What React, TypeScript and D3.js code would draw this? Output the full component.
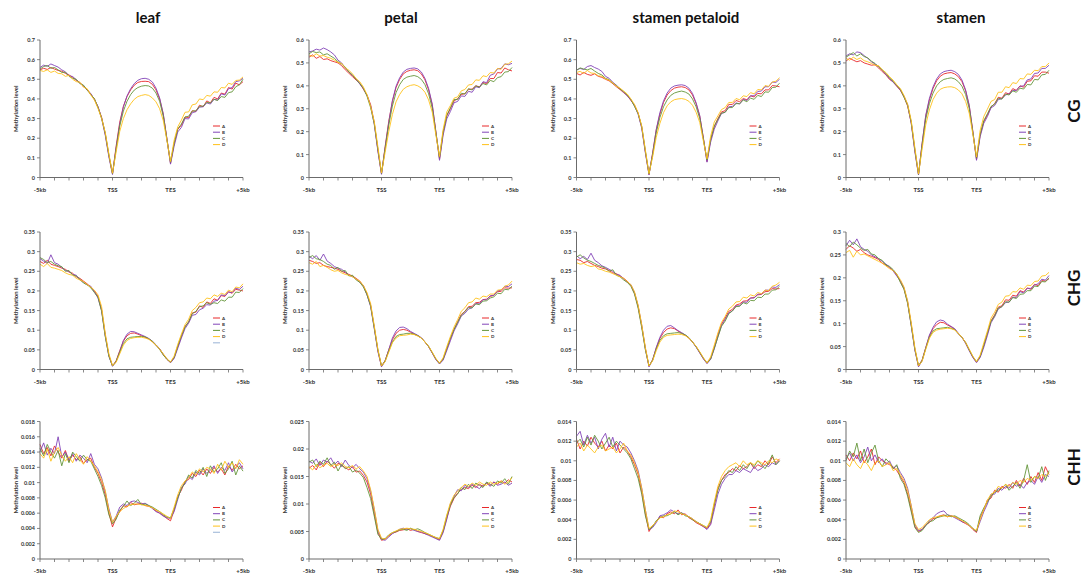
import React from "react";
import * as d3 from "d3";

// bins across -5kb..TSS..TES..+5kb (TSS at 50, TES at 90)
const bins = d3.range(0, 141, 2.5);
const xTickBins = d3.range(0, 141, 10);
const xLabels = [
  { bin: 0, text: "-5kb" },
  { bin: 50, text: "TSS" },
  { bin: 90, text: "TES" },
  { bin: 140, text: "+5kb" },
];

const tissues = ["leaf", "petal", "stamen petaloid", "stamen"];
const contexts = ["CG", "CHG", "CHH"];
const seriesNames = ["A", "B", "C", "D"];
const seriesColors = ["#e8282b", "#8244b8", "#64953a", "#ffc21a"];

// values per context: CG/CHG in 1e-3, CHH in 1e-4
const rowUnit = [1e-3, 1e-3, 1e-4];
const yMax = [
  [0.7, 0.6, 0.7, 0.6],
  [0.35, 0.35, 0.35, 0.3],
  [0.018, 0.025, 0.014, 0.014],
];
const yStep = [
  [0.1, 0.1, 0.1, 0.1],
  [0.05, 0.05, 0.05, 0.05],
  [0.002, 0.005, 0.002, 0.002],
];

// ---- CG ----
const cgLeafA = [548,556,550,560,552,545,541,530,522,510,494,484,462,450,424,400,358,306,222,112,18, 160,282,362,412,446,470,484,489,490,488,474,446,400,322,200,72, 172,245,266,308,305,340,336,368,360,390,380,408,400,430,424,458,450,480,472,488];
const cgLeafB = [560,572,566,578,570,562,548,538,518,514,498,480,468,444,428,396,362,300,215,105,15, 150,272,360,415,452,478,495,503,505,500,486,455,405,325,195,68, 160,232,255,300,298,330,335,358,360,380,374,398,394,426,420,452,458,488,492,505];
const cgLeafC = [552,565,570,556,560,548,535,536,515,505,500,478,470,446,422,402,356,302,225,115,20, 145,262,338,388,422,445,458,465,468,466,455,430,388,312,195,78, 175,248,272,308,312,338,340,362,364,382,380,398,392,412,408,432,436,462,472,500];
const cgLeafD = [545,540,548,535,542,530,528,515,520,500,488,485,460,452,420,395,352,300,230,120,22, 130,235,300,345,375,398,412,418,422,418,405,385,350,290,190,82, 190,258,292,332,334,370,374,400,396,418,414,436,434,458,456,480,474,494,496,512];

const cgPetalA = [525,535,520,528,515,518,510,505,500,488,470,455,440,425,412,385,360,318,240,120,15, 135,245,332,392,428,452,463,468,470,466,452,426,382,316,200,80, 195,268,300,334,344,362,366,384,386,400,396,414,410,432,432,458,456,478,470,465];
const cgPetalB = [548,552,560,556,565,558,548,535,512,500,478,462,445,430,408,388,358,312,232,115,14, 130,240,335,398,435,460,472,476,478,474,460,432,388,320,198,75, 185,256,288,326,332,356,354,376,372,396,392,418,414,446,452,474,476,496,492,498];
const cgPetalC = [540,550,545,548,535,540,530,520,505,495,482,460,448,428,410,390,355,305,235,125,18, 125,228,312,370,405,428,438,442,445,440,428,405,365,302,195,88, 200,272,304,340,340,368,364,388,382,400,394,410,404,424,418,436,440,460,462,480];
const cgPetalD = [535,528,540,530,532,525,520,512,502,498,478,468,452,432,418,395,362,310,245,135,20, 110,200,275,330,362,385,396,402,405,400,390,372,338,285,185,92, 210,286,314,346,352,378,384,404,406,426,424,444,440,458,456,476,472,494,496,508];

const cgPetaloidA = [530,522,535,525,520,528,515,510,500,492,478,462,448,432,418,392,368,328,255,130,15, 125,242,322,382,420,442,455,460,462,458,446,420,376,312,202,82, 192,258,300,334,340,372,372,392,386,402,396,416,410,428,426,446,446,468,466,462];
const cgPetaloidB = [548,555,550,565,570,560,552,540,515,505,485,470,452,435,415,395,365,322,250,125,14, 122,245,330,390,430,455,466,470,472,468,455,428,380,315,198,78, 180,246,288,326,332,360,362,380,374,398,392,416,416,438,440,462,462,486,484,500];
const cgPetaloidC = [545,558,552,548,555,542,530,522,505,498,480,468,450,438,420,398,362,325,260,135,18, 115,228,305,360,395,418,430,436,440,435,425,400,360,300,195,90, 195,262,296,328,332,356,356,376,376,394,386,404,398,418,412,436,434,458,460,480];
const cgPetaloidD = [535,540,530,545,532,530,518,515,502,495,482,465,455,440,425,400,372,330,262,140,20, 105,205,275,330,365,385,396,400,402,398,388,368,332,280,185,95, 210,282,314,346,356,382,382,402,396,416,412,432,426,448,446,468,464,486,490,508];

const cgStamenA = [508,520,512,505,510,500,495,490,492,478,462,448,428,418,398,380,352,312,238,118,12, 148,268,338,388,422,442,452,456,458,452,440,418,378,312,200,78, 185,244,272,308,322,350,346,370,364,388,380,400,394,420,422,444,442,460,460,455];
const cgStamenB = [530,540,535,548,545,532,520,505,495,485,468,450,432,415,400,382,355,318,235,112,11, 150,272,345,395,430,452,462,466,468,462,450,425,382,315,198,75, 178,236,266,304,314,340,344,360,366,380,380,398,400,426,430,454,456,476,476,490];
const cgStamenC = [525,535,545,530,540,528,522,508,498,482,470,455,435,420,402,385,350,315,242,122,14, 140,255,322,368,400,418,428,432,435,430,418,398,362,300,195,85, 190,248,278,310,320,346,342,364,360,378,372,390,386,406,404,428,426,448,450,468];
const cgStamenD = [520,512,525,515,522,510,505,498,490,488,470,458,440,425,405,388,358,320,248,130,16, 125,230,295,340,368,385,392,395,396,392,382,365,332,280,188,90, 205,266,298,332,340,372,372,396,392,414,410,432,430,452,450,468,466,484,484,500];

// ---- CHG ----
const chgLeafA = [275,270,278,268,265,262,258,255,248,245,236,232,225,218,210,200,186,152,88,36,9, 22,48,72,86,92,93,90,86,82,78,71,62,52,38,26,18, 30,58,84,110,120,144,146,162,158,172,168,180,176,188,186,198,194,204,202,200];
const chgLeafB = [282,276,270,292,272,268,260,252,250,242,240,228,222,215,212,198,182,150,85,34,8, 20,46,74,90,97,96,92,88,84,79,72,63,53,39,27,17, 28,54,80,104,118,138,140,152,156,165,164,174,176,190,188,197,196,207,204,212];
const chgLeafC = [285,280,272,275,268,264,262,250,252,240,238,230,220,216,208,196,184,148,84,34,9, 21,44,66,78,82,83,84,84,83,78,72,62,51,37,26,19, 31,60,86,108,122,142,148,160,162,170,166,170,168,177,174,184,184,197,196,206];
const chgLeafD = [268,262,270,260,258,255,252,246,242,240,232,228,224,216,210,202,190,160,92,40,10, 18,40,62,74,79,81,82,82,80,77,70,62,52,40,28,19, 34,64,90,114,128,150,158,170,172,182,180,190,186,194,191,202,198,210,208,218];

const chgPetalA = [278,275,270,272,265,262,260,258,255,250,246,242,238,232,225,212,192,164,108,48,8, 23,50,76,92,100,102,100,95,90,86,80,70,58,42,26,15, 26,52,78,102,122,140,148,160,161,170,171,178,179,186,189,198,199,208,207,208];
const chgPetalB = [288,282,290,278,294,276,270,262,258,255,248,240,236,230,222,214,190,160,104,46,7, 21,50,80,98,107,108,104,97,92,87,81,70,58,42,25,14, 24,48,73,98,116,136,143,154,157,168,167,178,177,188,189,200,202,212,211,218];
const chgPetalC = [285,290,282,280,275,268,265,255,260,250,252,238,240,228,222,210,190,162,106,50,9, 22,47,70,84,89,90,92,92,90,86,80,70,59,43,27,16, 27,54,80,102,120,138,147,158,157,167,165,174,175,182,185,194,193,204,203,212];
const chgPetalD = [272,268,275,262,265,260,254,250,252,246,242,240,236,230,225,214,196,168,112,52,9, 20,44,68,80,86,87,88,90,89,85,80,70,59,44,28,16, 30,58,84,108,127,148,157,170,172,182,179,187,185,192,192,202,203,212,215,225];

const chgPetaloidA = [280,278,272,275,270,265,262,258,256,252,246,244,238,232,225,214,194,160,110,54,8, 25,55,79,94,103,106,104,98,92,87,80,70,58,43,28,16, 28,56,88,116,131,148,153,164,167,174,175,182,183,190,191,198,199,206,205,206];
const chgPetaloidB = [290,282,288,280,296,278,272,264,260,255,250,242,240,230,222,216,196,162,112,52,7, 24,56,82,100,110,112,106,99,94,88,81,70,57,42,27,15, 26,52,84,112,127,144,149,162,162,172,171,182,182,192,192,202,202,210,209,216];
const chgPetaloidC = [286,292,284,278,275,270,265,262,258,250,254,240,236,228,222,212,192,156,106,50,9, 24,52,74,86,91,92,93,94,92,88,81,70,58,44,29,17, 27,54,82,110,123,142,149,160,161,170,167,176,175,184,183,192,192,202,203,212];
const chgPetaloidD = [272,268,270,265,262,264,256,254,250,248,244,240,236,232,224,216,198,164,114,56,9, 22,48,70,82,87,88,89,90,89,86,80,70,59,45,30,17, 32,62,93,120,135,154,161,172,173,184,182,190,187,196,193,202,201,212,215,222];

const chgStamenA = [262,270,265,258,262,255,250,247,244,240,232,228,222,216,206,192,176,146,98,44,7, 21,48,73,89,98,103,102,97,93,88,78,70,58,42,27,16, 28,52,78,106,119,136,139,152,151,162,160,172,169,178,175,186,183,194,193,198];
const chgStamenB = [270,282,272,285,268,262,258,250,246,242,236,230,224,215,204,194,178,148,95,42,6, 19,47,75,92,104,108,106,99,94,89,79,70,57,41,26,15, 26,48,74,102,115,132,137,146,147,158,157,170,167,177,177,184,187,197,195,205];
const chgStamenC = [275,268,278,272,265,260,262,252,250,242,238,228,225,218,208,190,175,144,96,44,8, 20,46,70,84,89,90,91,92,90,87,78,70,59,43,28,17, 29,53,80,105,117,134,137,148,147,157,155,164,165,172,172,182,181,192,191,200];
const chgStamenD = [255,260,245,258,250,252,248,244,240,236,232,226,220,216,208,196,180,150,102,48,8, 18,44,68,81,86,88,89,90,89,86,79,70,59,44,29,17, 31,58,84,112,125,142,147,160,161,170,169,178,175,184,183,192,193,204,205,212];

// ---- CHH ----
const chhLeafA = [150,138,146,135,148,140,132,142,128,136,130,134,125,130,132,120,112,100,84,60,42, 54,62,70,68,74,71,72,73,70,69,67,63,60,57,53,50, 64,82,90,102,104,112,108,116,110,118,112,120,114,118,110,122,116,124,118,122];
const chhLeafB = [140,152,136,145,138,160,134,140,130,138,128,136,132,126,138,124,118,106,88,66,48, 56,68,72,70,75,76,74,72,73,70,66,62,60,56,54,53, 62,78,94,98,108,104,114,110,118,112,116,122,112,120,116,126,114,120,126,118];
const chhLeafC = [145,135,150,140,132,142,122,138,126,140,134,128,136,130,128,118,108,96,80,58,46, 52,64,69,76,70,73,78,71,72,70,68,65,62,58,55,54, 66,80,92,100,110,106,116,112,120,108,122,114,118,126,112,118,128,110,122,115];
const chhLeafD = [138,132,144,128,140,146,136,128,134,126,138,130,124,134,128,122,114,104,90,64,48, 56,62,66,69,71,72,72,71,70,69,67,64,62,59,56,53, 68,84,96,102,106,114,110,118,114,120,118,112,124,116,128,120,126,118,130,124];

const chhPetalA = [165,170,162,176,168,178,172,165,174,170,166,162,168,158,160,152,140,118,82,48,34, 36,42,47,49,52,53,55,52,54,50,48,46,44,41,38,35, 50,74,96,110,120,126,130,128,134,130,136,132,138,134,140,136,142,138,144,140];
const chhPetalB = [178,174,182,170,180,176,184,172,178,168,180,170,166,172,164,158,146,124,90,52,36, 34,40,46,50,54,56,54,55,52,50,49,46,43,40,37,34, 48,72,100,114,126,124,134,130,136,132,128,134,138,132,140,134,136,140,134,138];
const chhPetalC = [176,180,168,178,172,184,170,176,160,172,164,168,158,162,156,148,130,110,78,45,36, 37,44,48,50,53,54,52,56,53,55,52,48,45,42,39,37, 52,78,98,112,118,130,126,136,128,138,134,130,140,136,132,142,138,146,136,150];
const chhPetalD = [168,162,172,166,170,174,168,172,170,175,168,166,170,164,168,160,150,126,92,54,38, 36,43,48,51,54,55,56,55,54,52,50,48,45,42,39,37, 54,80,102,116,124,130,136,132,138,134,140,136,134,140,136,138,142,136,140,148];

const chhPetaloidA = [122,112,120,115,124,118,114,120,110,116,112,118,108,114,110,104,96,86,68,46,28, 34,38,43,42,46,48,46,50,45,46,42,40,37,35,33,31, 36,54,72,80,86,88,92,90,95,92,94,98,92,96,94,100,96,104,98,102];
const chhPetaloidB = [125,130,116,126,118,124,112,122,128,114,124,110,120,116,114,108,100,90,72,50,30, 32,37,44,45,47,50,48,46,47,45,43,41,38,36,33,30, 35,50,66,76,82,86,86,90,88,92,90,88,94,90,92,96,94,98,96,100];
const chhPetaloidC = [118,122,114,124,116,126,120,112,118,124,114,120,116,112,108,102,92,82,66,44,30, 33,39,42,44,44,46,48,45,47,44,43,40,38,36,34,32, 38,56,70,80,84,90,88,94,90,96,92,98,94,100,96,92,98,106,96,100];
const chhPetaloidD = [114,118,110,116,112,108,114,116,110,112,114,108,112,118,110,106,98,88,72,50,31, 34,38,42,43,45,46,49,48,46,45,43,41,38,36,34,32, 40,58,74,84,90,94,96,98,94,100,96,98,96,100,98,96,100,98,102,100];

const chhStamenA = [106,100,108,102,110,98,104,112,96,104,100,98,96,94,90,84,78,66,50,33,28, 30,35,37,41,42,44,45,43,44,43,41,38,36,34,30,27, 42,50,60,62,70,68,74,72,76,72,80,74,82,76,84,78,88,80,94,86];
const chhStamenB = [102,108,100,106,98,104,114,100,106,98,102,96,100,92,95,88,82,72,54,35,29, 30,34,39,42,46,48,49,45,44,42,40,38,37,34,31,28, 38,48,56,66,66,72,70,74,72,78,74,76,72,78,80,76,84,78,86,84];
const chhStamenC = [100,110,104,118,100,112,98,108,116,100,94,102,98,92,96,82,76,64,48,32,27, 29,34,38,39,42,43,44,45,43,44,42,40,38,35,31,28, 44,52,58,64,68,70,72,76,70,74,78,72,80,96,78,84,82,94,80,90];
const chhStamenD = [98,94,102,96,92,100,96,90,98,100,94,96,98,90,92,86,80,70,54,36,30, 32,36,40,42,43,44,44,43,44,43,41,39,37,34,31,29, 40,50,60,66,68,74,72,76,74,78,76,80,78,82,80,84,82,86,84,88];

const panelData = [
  [
    [cgLeafA, cgLeafB, cgLeafC, cgLeafD],
    [cgPetalA, cgPetalB, cgPetalC, cgPetalD],
    [cgPetaloidA, cgPetaloidB, cgPetaloidC, cgPetaloidD],
    [cgStamenA, cgStamenB, cgStamenC, cgStamenD],
  ],
  [
    [chgLeafA, chgLeafB, chgLeafC, chgLeafD],
    [chgPetalA, chgPetalB, chgPetalC, chgPetalD],
    [chgPetaloidA, chgPetaloidB, chgPetaloidC, chgPetaloidD],
    [chgStamenA, chgStamenB, chgStamenC, chgStamenD],
  ],
  [
    [chhLeafA, chhLeafB, chhLeafC, chhLeafD],
    [chhPetalA, chhPetalB, chhPetalC, chhPetalD],
    [chhPetaloidA, chhPetaloidB, chhPetaloidC, chhPetaloidD],
    [chhStamenA, chhStamenB, chhStamenC, chhStamenD],
  ],
];

// layout
const colX = [40, 309, 576.5, 846];
const plotW = 203;
const rowTop = [40, 232, 421.5];
const plotH = 137.5;
const titleX = [148, 401, 686, 961];
const rowLabelY = [111, 288, 467];

const font = "Lato, 'Open Sans', sans-serif";
const axisColor = "#6b6b6b";

function Panel({ row, col }: { row: number; col: number }) {
  const x0 = colX[col];
  const top = rowTop[row];
  const x = d3.scaleLinear().domain([0, 140]).range([x0, x0 + plotW]);
  const y = d3.scaleLinear().domain([0, yMax[row][col]]).range([top + plotH, top]);
  const unit = rowUnit[row];
  const yTicks = d3.range(0, yMax[row][col] + yStep[row][col] / 2, yStep[row][col]);
  const line = d3
    .line<number>()
    .x((_, i) => x(bins[i]))
    .y((d) => y(d * unit));
  const bottom = top + plotH;
  const showBlank = col === 0 && row > 0;

  return (
    <g>
      {panelData[row][col].map((s, k) => (
        <path key={k} d={line(s) || ""} fill="none" stroke={seriesColors[k]} strokeWidth={0.9} strokeLinejoin="round" />
      ))}
      <line x1={x0} x2={x0} y1={top} y2={bottom} stroke={axisColor} strokeWidth={1} />
      <line x1={x0} x2={x0 + plotW} y1={bottom} y2={bottom} stroke={axisColor} strokeWidth={1} />
      {yTicks.map((t) => (
        <g key={t}>
          <line x1={x0 - 3} x2={x0} y1={y(t)} y2={y(t)} stroke={axisColor} strokeWidth={0.8} />
          <text x={x0 - 5} y={y(t) + 2} textAnchor="end" fontSize={5.5} fontWeight="bold" fill="#333" fontFamily={font}>
            {String(+t.toFixed(4))}
          </text>
        </g>
      ))}
      {xTickBins.map((b) => (
        <line key={b} x1={x(b)} x2={x(b)} y1={bottom} y2={bottom + 3} stroke={axisColor} strokeWidth={0.8} />
      ))}
      {xLabels.map((l) => (
        <text key={l.text} x={x(l.bin)} y={bottom + 14} textAnchor="middle" fontSize={6} fontWeight="bold" fill="#333" fontFamily={font}>
          {l.text}
        </text>
      ))}
      <text
        transform={`translate(${x0 - 22},${top + plotH / 2}) rotate(-90)`}
        textAnchor="middle"
        fontSize={6}
        fontWeight="bold"
        fill="#333"
        fontFamily={font}
      >
        Methylation level
      </text>
      {seriesNames.map((n, k) => (
        <g key={n}>
          <line x1={x0 + 173} x2={x0 + 180} y1={top + 86 + k * 6.2} y2={top + 86 + k * 6.2} stroke={seriesColors[k]} strokeWidth={1} />
          <text x={x0 + 182} y={top + 87.5 + k * 6.2} fontSize={4.5} fontWeight="bold" fill="#333" fontFamily={font}>
            {n}
          </text>
        </g>
      ))}
      {showBlank && (
        <line x1={x0 + 173} x2={x0 + 180} y1={top + 86 + 4 * 6.2} y2={top + 86 + 4 * 6.2} stroke="#a9bfdc" strokeWidth={1.2} />
      )}
    </g>
  );
}

export default function App() {
  return (
    <svg width={1083} height={576} style={{ position: "absolute", left: 0, top: 0, background: "#fff" }}>
      {tissues.map((t, c) => (
        <text key={t} x={titleX[c]} y={23} textAnchor="middle" fontSize={15} fontWeight="bold" fill="#111" fontFamily={font}>
          {t}
        </text>
      ))}
      {contexts.map((c, r) => (
        <text
          key={c}
          transform={`translate(1080,${rowLabelY[r]}) rotate(-90)`}
          textAnchor="middle"
          fontSize={17}
          fontWeight="bold"
          fill="#111"
          fontFamily={font}
        >
          {c}
        </text>
      ))}
      {contexts.map((_, r) => tissues.map((_, c) => <Panel key={`${r}-${c}`} row={r} col={c} />))}
    </svg>
  );
}
